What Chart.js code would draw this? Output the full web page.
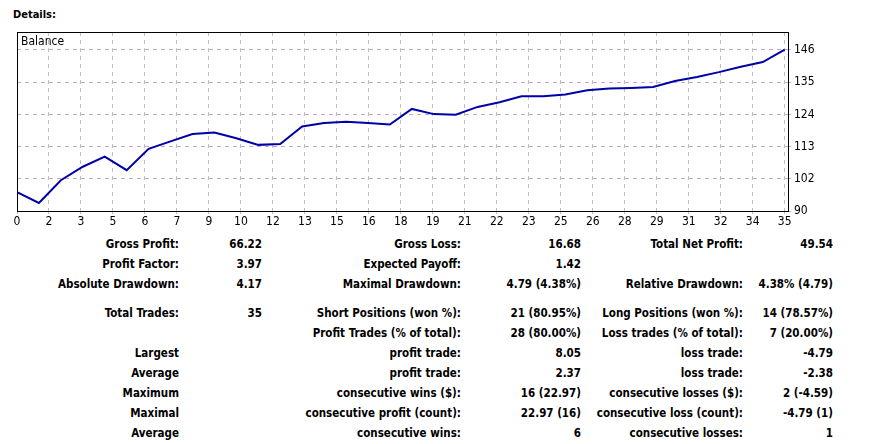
<!DOCTYPE html>
<html>
<head>
<meta charset="utf-8">
<script src="https://cdn.jsdelivr.net/npm/chart.js@4.4.1/dist/chart.umd.min.js"></script>
<style>
  body { margin: 0; background: #fff; width: 876px; height: 444px; overflow: hidden; position: relative;
         font-family: "DejaVu Sans Condensed", "DejaVu Sans", sans-serif; }
  #title { position: absolute; left: 13px; top: 8px; font-size: 11px; font-weight: bold; color: #000; }
  #wrap { position: absolute; left: 0; top: 0; width: 876px; height: 232px; }
  .cell { position: absolute; font-size: 11.5px; font-weight: bold; color: #000; text-align: right; white-space: nowrap;
          transform: translateY(-50%); }
</style>
</head>
<body>
<div id="title">Details:</div>
<div id="wrap"><canvas id="balanceChart" width="876" height="232"></canvas></div>
<div id="stats"></div>
<script>
// balance after each trade (0 = start)
var tradeNo = [0,1,2,3,4,5,6,7,8,9,10,11,12,13,14,15,16,17,18,19,20,21,22,23,24,25,26,27,28,29,30,31,32,33,34,35];
var balance = [96.6,92.8,100.7,105.4,108.9,104.2,111.6,114.2,116.8,117.3,115.3,113.0,113.3,119.4,120.6,121.0,
               120.6,120.1,125.5,123.7,123.5,126.2,127.8,129.9,129.9,130.5,132.0,132.6,132.8,133.1,135.2,136.6,
               138.3,140.2,141.8,146.1];
var xTickLabels = ["0","2","3","5","6","7","9","10","12","13","15","16","18","19","21","22","23","25","26","28","29","31","32","34","35"];
var yTickLabels = ["90","102","113","124","135","146"];

// report rows: [label, value] x 3 columns
var statRows = [
  ["Gross Profit:", "66.22", "Gross Loss:", "16.68", "Total Net Profit:", "49.54"],
  ["Profit Factor:", "3.97", "Expected Payoff:", "1.42", "", ""],
  ["Absolute Drawdown:", "4.17", "Maximal Drawdown:", "4.79 (4.38%)", "Relative Drawdown:", "4.38% (4.79)"],
  ["Total Trades:", "35", "Short Positions (won %):", "21 (80.95%)", "Long Positions (won %):", "14 (78.57%)"],
  ["", "", "Profit Trades (% of total):", "28 (80.00%)", "Loss trades (% of total):", "7 (20.00%)"],
  ["Largest", "", "profit trade:", "8.05", "loss trade:", "-4.79"],
  ["Average", "", "profit trade:", "2.37", "loss trade:", "-2.38"],
  ["Maximum", "", "consecutive wins ($):", "16 (22.97)", "consecutive losses ($):", "2 (-4.59)"],
  ["Maximal", "", "consecutive profit (count):", "22.97 (16)", "consecutive loss (count):", "-4.79 (1)"],
  ["Average", "", "consecutive wins:", "6", "consecutive losses:", "1"]
];
var rowY = [244, 264, 284, 313, 333, 353, 373, 393, 413, 433];
var colRight = [179, 262, 461, 581, 743, 833];

var stats = document.getElementById("stats");
statRows.forEach(function (row, r) {
    row.forEach(function (txt, c) {
        if (!txt) return;
        var d = document.createElement("div");
        d.className = "cell";
        d.textContent = txt;
        d.style.right = (876 - colRight[c]) + "px";
        d.style.top = rowY[r] + "px";
        stats.appendChild(d);
    });
});

var frame = {
    id: "frame",
    afterDraw: function (chart) {
        var a = chart.chartArea, c = chart.ctx;
        c.save();
        c.strokeStyle = "#000";
        c.lineWidth = 1;
        c.strokeRect(a.left + 0.5, a.top + 0.5, a.right - a.left, a.bottom - a.top);
        c.fillStyle = "#000";
        c.font = "12px 'DejaVu Sans Condensed', 'DejaVu Sans'";
        c.textBaseline = "top";
        c.fillText("Balance", a.left + 4, a.top + 4);
        c.restore();
    }
};

var ctx = document.getElementById("balanceChart").getContext("2d");
new Chart(ctx, {
    type: "line",
    data: {
        labels: tradeNo,
        datasets: [{
            data: tradeNo.map(function (t, i) { return { x: t, y: balance[i] }; }),
            borderColor: "#0000a8",
            borderWidth: 2,
            pointRadius: 0,
            tension: 0,
            fill: false
        }]
    },
    options: {
        responsive: false,
        animation: false,
        devicePixelRatio: 1,
        layout: { padding: { left: 17, top: 32, right: 0, bottom: 0 } },
        plugins: { legend: { display: false }, tooltip: { enabled: false } },
        scales: {
            x: {
                type: "linear", min: 0, max: 35.15,
                afterBuildTicks: function (axis) {
                    axis.ticks = xTickLabels.map(function (l, k) { return { value: k * 35 / 24 }; });
                },
                afterFit: function (axis) { axis.height = 21; },
                ticks: {
                    autoSkip: false, maxRotation: 0, color: "#000", padding: 1,
                    font: { family: "DejaVu Sans Condensed", size: 12 },
                    callback: function (v, i) { return xTickLabels[i]; }
                },
                grid: { color: "#c0c0c0", drawTicks: true, tickLength: 3 },
                border: { display: false, dash: [4, 4] }
            },
            y: {
                position: "right", min: 90, max: 152.26,
                afterBuildTicks: function (axis) {
                    axis.ticks = yTickLabels.map(function (l, k) { return { value: 90 + k * 11.2 }; });
                },
                afterFit: function (axis) { axis.width = 88; },
                ticks: {
                    color: "#000", padding: 3,
                    font: { family: "DejaVu Sans Condensed", size: 12 },
                    callback: function (v, i) { return yTickLabels[i]; }
                },
                grid: { color: "#c8a8c8", drawTicks: true, tickLength: 3 },
                border: { display: false, dash: [4, 4] }
            }
        }
    },
    plugins: [frame]
});
</script>
</body>
</html>
